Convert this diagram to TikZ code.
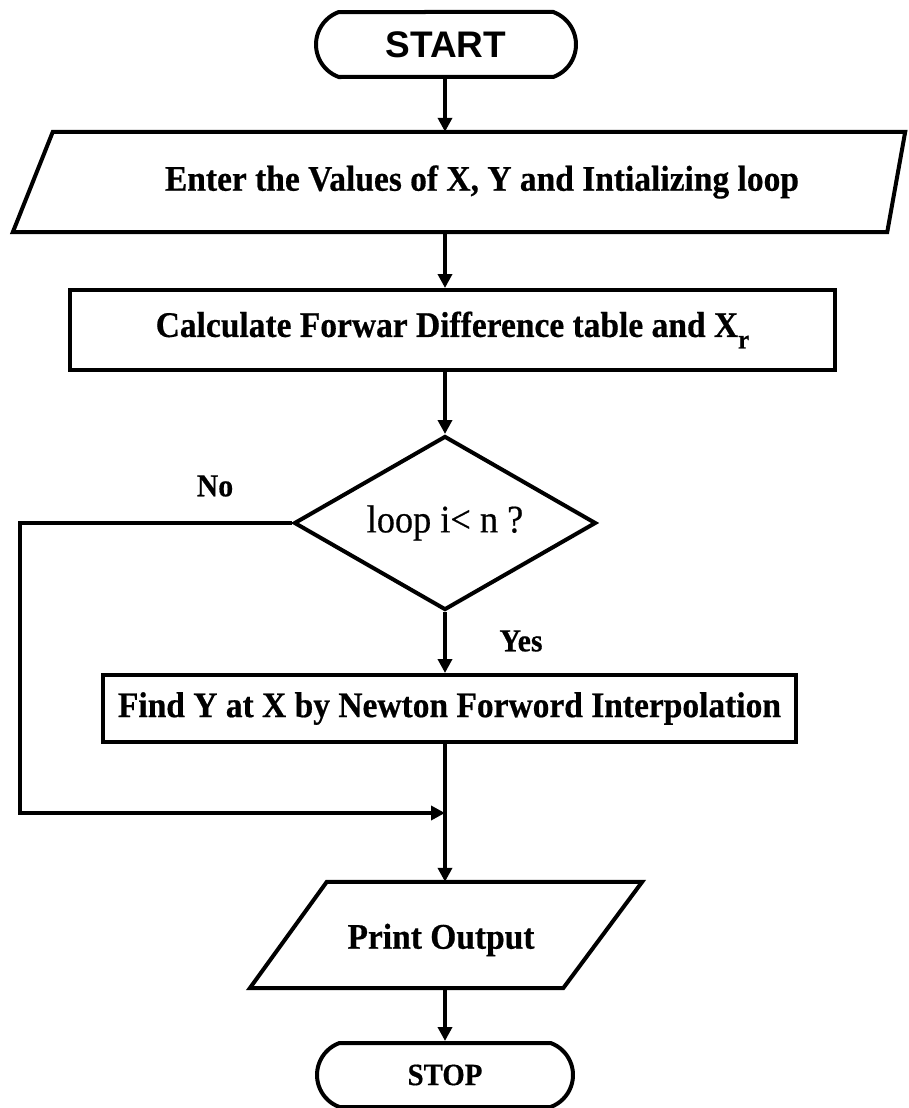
\documentclass[tikz,border=0pt]{standalone}
\usepackage{fontspec}
\setmainfont{Liberation Serif}
\newfontfamily\lblfont{Liberation Serif}[FakeStretch=0.93, FakeBold=0.5]
\newfontfamily\headfont{Liberation Sans}
\usetikzlibrary{shapes.geometric,shapes.misc,arrows.meta,calc}

\begin{document}
\begin{tikzpicture}[x=1pt,y=-1pt,
  outline/.style={line width=4pt, line join=miter},
  flow/.style={line width=3.6pt, -{Triangle[width=14pt,length=14pt]}},
  txt/.style={inner sep=0pt, font=\lblfont\bfseries\fontsize{36}{42}\selectfont},
  frame/.style={inner sep=0pt, draw=none},
  terminal/.style={rounded rectangle, rounded rectangle arc length=140,
    draw, line width=4pt, inner sep=0pt},
  process/.style={draw, line width=4pt, inner sep=0pt, font=\lblfont\bfseries\fontsize{36}{42}\selectfont},
]
\useasboundingbox[fill=white] (0,0) rectangle (908,1108);

% spine x for the main vertical flow
\coordinate (spine) at (445,0);

% start terminal
\node[terminal, minimum width=260, minimum height=65,
      font=\headfont\bfseries\fontsize{37}{42}\selectfont] (start) at (446,44.5) {START};

% input parallelogram
\node[frame, minimum width=892, minimum height=100] (input) at (459,182) {};
\draw[outline] ([xshift=40pt]input.north west) -- (input.north east)
  -- ([xshift=-18pt]input.south east) -- (input.south west) -- cycle;
\node[txt] (inputtxt) at (482,182) {Enter the Values of X, Y and Intializing loop};

% forward difference table
\node[process, minimum width=765, minimum height=80] (calc) at (452.5,330)
  {Calculate Forwar Difference table and X\raisebox{-0.32em}{\fontsize{27}{27}\selectfont r}};

% loop condition (the diamond keeps its set size; the text may reach the sides)
\node[diamond, draw, line width=4pt, inner sep=-14pt, minimum width=302, minimum height=174,
      font=\lblfont\fontsize{39}{44}\selectfont] (cond) at (445,523) {loop i< n ?};

% interpolation step
\node[process, minimum width=693, minimum height=67] (find) at (449.5,708.5)
  {Find Y at X by Newton Forword Interpolation};

% output parallelogram
\node[frame, minimum width=392, minimum height=106] (print) at (446,935) {};
\draw[outline] ([xshift=77pt]print.north west) -- (print.north east)
  -- ([xshift=-79pt]print.south east) -- (print.south west) -- cycle;
\node[txt] (printtxt) at (441,940) {Print Output};

% stop terminal
\node[terminal, minimum width=256, minimum height=64,
      font=\lblfont\bfseries\fontsize{31}{36}\selectfont] (stop) at (445,1075) {STOP};

% branch labels
\node[inner sep=0pt, font=\lblfont\bfseries\fontsize{32}{36}\selectfont] (nolbl) at (215,486) {No};
\node[inner sep=0pt, font=\lblfont\bfseries\fontsize{32}{36}\selectfont] (yeslbl) at (521,641) {Yes};

% join point of the loop-back line
\coordinate (merge) at (445,813);
\coordinate (leftturn) at (20,523);

% connectors
\draw[flow] (spine |- start.south) -- (spine |- input.north);
\draw[flow] (spine |- input.south) -- (spine |- calc.north);
\draw[flow] (spine |- calc.south) -- (cond.north);
\draw[flow] (cond.south) -- (spine |- find.north);
\draw[flow] (spine |- find.south) -- (spine |- print.north);
\draw[flow] (cond.west) -- (leftturn) |- (merge);
\draw[flow] (spine |- print.south) -- (spine |- stop.north);
\end{tikzpicture}
\end{document}
